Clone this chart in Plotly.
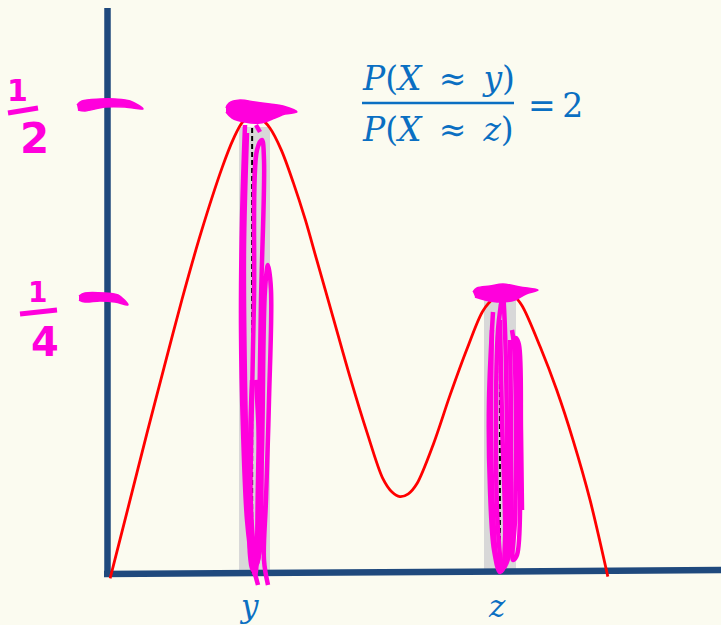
import plotly.graph_objects as go

# ---- density sketch (axis units) ----
curve_x = [0.03, 0.31, 0.55, 0.79, 1.04, 1.31, 1.61, 1.76, 1.90, 2.03, 2.17, 2.28,
           2.44, 2.61, 2.78, 2.94, 3.17, 3.41, 3.65, 3.87, 4.00, 4.11, 4.23, 4.35,
           4.58, 4.82, 5.06, 5.28, 5.44, 5.59, 5.72, 5.83, 6.09, 6.32, 6.55, 6.79, 7.04]
curve_y = [-0.006, 0.080, 0.154, 0.226, 0.300, 0.374, 0.446, 0.476, 0.496, 0.501,
           0.498, 0.489, 0.465, 0.429, 0.388, 0.344, 0.281, 0.215, 0.154, 0.104,
           0.089, 0.084, 0.087, 0.098, 0.141, 0.196, 0.247, 0.288, 0.302, 0.307,
           0.304, 0.294, 0.248, 0.201, 0.146, 0.080, -0.004]

# small windows around the two points of interest
point_names = ["y", "z"]
point_x = [2.03, 5.52]
window_center = [2.06, 5.52]
window_height = [0.49, 0.30]
window_width = 0.44

BG = "#fbfbf0"
AXIS = "#1f497d"
RED = "#ff0000"
INK = "#ff00dc"
BLUE = "#0a6fc2"

W, H = 721, 625
X0, Y0, KX, KY = 108, 573, 71.0, 910.0


def to_axes(pts):
    """Canvas pen positions -> axis units (for the freehand ink)."""
    xs = [(p[0] - X0) / KX for p in pts]
    ys = [(Y0 - p[1]) / KY for p in pts]
    return xs, ys


fig = go.Figure()

# grey windows
fig.add_trace(go.Bar(x=window_center, y=window_height, width=window_width,
                     marker=dict(color="#d8d8d8", line=dict(width=0)),
                     hoverinfo="skip", showlegend=False))

# axes
ax_x, ax_y = to_axes([(107.5, 8), (107.5, 577)])
fig.add_trace(go.Scatter(x=ax_x, y=ax_y, mode="lines",
                         line=dict(color=AXIS, width=6.5), showlegend=False))
ax_x, ax_y = to_axes([(104, 574), (725, 570)])
fig.add_trace(go.Scatter(x=ax_x, y=ax_y, mode="lines",
                         line=dict(color=AXIS, width=6.5), showlegend=False))

# dashed guides
for px, h in zip(point_x, window_height):
    fig.add_trace(go.Scatter(x=[px, px], y=[0, h], mode="lines",
                             line=dict(color="black", width=2, dash="5px,3px"),
                             showlegend=False))

# density curve
fig.add_trace(go.Scatter(x=curve_x, y=curve_y, mode="lines",
                         line=dict(color=RED, width=2.8, shape="spline", smoothing=0.9),
                         showlegend=False))

# ---- freehand ink ----
blobs = [
    [(226, 108), (229, 103), (240, 100), (255, 102), (270, 104), (283, 106),
     (297, 112), (285, 114), (275, 118), (260, 123), (245, 122), (232, 118), (226, 112)],
    [(473, 292), (477, 288), (490, 286), (503, 284), (520, 287), (538, 290),
     (526, 294), (515, 300), (500, 302), (485, 300), (475, 297)],
    [(77, 105), (82, 101), (100, 99), (115, 99), (130, 101), (143, 109),
     (125, 107), (105, 107), (85, 111), (78, 110)],
    [(79, 296), (85, 293), (105, 293), (118, 295), (128, 305), (115, 302),
     (100, 301), (85, 302), (79, 300)],
]
for b in blobs:
    bx, by = to_axes(b)
    fig.add_trace(go.Scatter(x=bx, y=by, mode="lines", fill="toself", fillcolor=INK,
                             line=dict(color=INK, width=1.5, shape="spline"),
                             showlegend=False))

strokes = [
    [(245, 125), (242, 220), (241, 330), (243, 430), (247, 520), (252, 560), (258, 585)],
    [(247, 133), (244, 250), (245, 380), (248, 500), (251, 560), (255, 575),
     (258, 480), (261, 300), (264, 160), (262, 140), (257, 150), (254, 300),
     (251, 450), (250, 555), (253, 570), (258, 560), (262, 450), (265, 290),
     (268, 265), (271, 290), (269, 400), (266, 500), (264, 560), (268, 585)],
    [(256, 125), (260, 132)],
    [(252, 380), (250, 460), (253, 540), (257, 565), (260, 540), (259, 440), (256, 380)],
    [(493, 312), (489, 400), (490, 490), (494, 550), (500, 572), (506, 560),
     (507, 450), (505, 330), (503, 290)],
    [(503, 292), (498, 330), (496, 430), (498, 530), (503, 568), (509, 555),
     (511, 450), (510, 340)],
    [(512, 330), (514, 345), (516, 420), (515, 520), (513, 560), (517, 555),
     (520, 450), (518, 360), (516, 338), (519, 345), (521, 430), (522, 510)],
    [(492, 330), (491, 420), (493, 510), (497, 560), (502, 570), (505, 540),
     (502, 420), (500, 320)],
]
for s in strokes:
    sx, sy = to_axes(s)
    fig.add_trace(go.Scatter(x=sx, y=sy, mode="lines",
                             line=dict(color=INK, width=4.5, shape="spline"),
                             showlegend=False))

annotations = []


def note(cx, cy, text, size, color, family="DejaVu Serif"):
    ax, ay = to_axes([(cx, cy)])
    annotations.append(dict(x=ax[0], y=ay[0], text=text, showarrow=False,
                            xanchor="center", yanchor="middle",
                            font=dict(size=size, color=color, family=family)))


# hand-written fractions on the vertical axis
note(17, 90, "<b>1</b>", 30, INK, "DejaVu Sans")
note(34, 138, "<b>2</b>", 42, INK, "DejaVu Sans")
note(37, 292, "<b>1</b>", 28, INK, "DejaVu Sans")
note(45, 342, "<b>4</b>", 40, INK, "DejaVu Sans")
for seg in [[(8, 113), (38, 108)], [(20, 314), (57, 310)]]:
    sx, sy = to_axes(seg)
    fig.add_trace(go.Scatter(x=sx, y=sy, mode="lines", line=dict(color=INK, width=5),
                             showlegend=False))

# ratio formula
REL = "&#8201;≈&#8201;"
note(438, 78, f"<i>P</i>(<i>X</i> {REL} <i>y</i>)", 33, BLUE)
note(438, 129, f"<i>P</i>(<i>X</i> {REL} <i>z</i>)", 33, BLUE)
note(555, 105, "=&#8201;2", 33, BLUE)
fx, fy = to_axes([(362, 103), (514, 103)])
fig.add_trace(go.Scatter(x=fx, y=fy, mode="lines", line=dict(color=BLUE, width=2.5),
                         showlegend=False))

# point labels under the axis
for name, px in zip(point_names, point_x):
    cx = X0 + px * KX
    ax, ay = to_axes([(cx, 606)])
    annotations.append(dict(x=ax[0] - 0.04, y=ay[0], text=f"<i>{name}</i>", showarrow=False,
                            xanchor="center", yanchor="middle",
                            font=dict(size=31, color=BLUE, family="DejaVu Serif")))

rx0, ry0 = to_axes([(0, H)])
rx1, ry1 = to_axes([(W, 0)])
fig.update_layout(
    width=W, height=H, margin=dict(l=0, r=0, t=0, b=0),
    paper_bgcolor=BG, plot_bgcolor=BG,
    xaxis=dict(range=[rx0[0], rx1[0]], visible=False, fixedrange=True),
    yaxis=dict(range=[ry0[0], ry1[0]], visible=False, fixedrange=True),
    annotations=annotations, showlegend=False, bargap=0,
)

fig.write_html("out.html", config={"displayModeBar": False})
